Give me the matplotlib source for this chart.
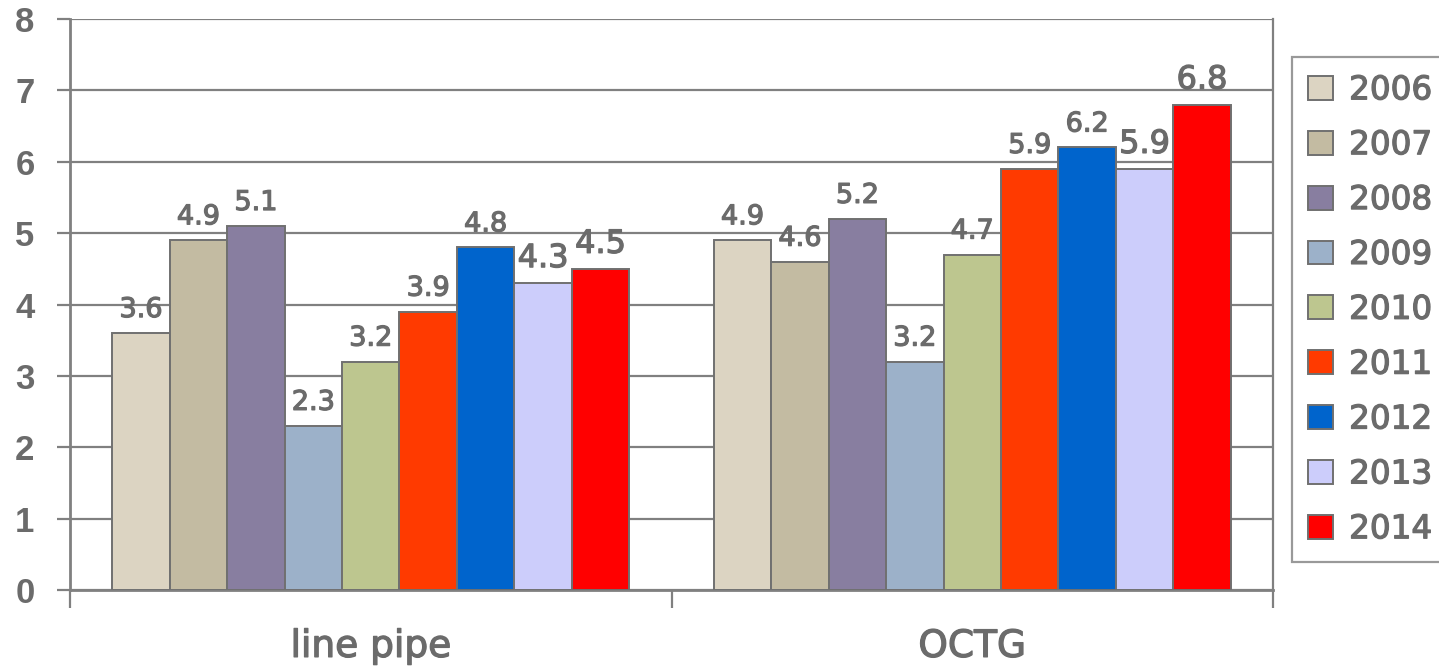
import numpy as np
import matplotlib.pyplot as plt
import matplotlib.patheffects as pe
from matplotlib.ticker import FixedLocator

GREY = "#6b6b6b"
LINE = "#808080"
THICK = [pe.withStroke(linewidth=0.9, foreground=GREY)]

categories = ["line pipe", "OCTG"]
years = ["2006", "2007", "2008", "2009", "2010", "2011", "2012", "2013", "2014"]
colors = ["#dcd4c2", "#c3bba2", "#887ea0", "#9cb1c9", "#bdc68f",
          "#ff3a00", "#0064cc", "#cccdfb", "#ff0000"]
line_pipe = [3.6, 4.9, 5.1, 2.3, 3.2, 3.9, 4.8, 4.3, 4.5]
octg = [4.9, 4.6, 5.2, 3.2, 4.7, 5.9, 6.2, 5.9, 6.8]
# the last two years get a larger label
big_label = ["2013", "2014"]
yticks = [0, 1, 2, 3, 4, 5, 6, 7, 8]

fig = plt.figure(figsize=(14.39, 6.69), dpi=100)
ax = fig.add_axes([70 / 1439, 79 / 669, (1273 - 70) / 1439, (590 - 19) / 669])

x = np.arange(len(categories))
w = 0.0955
for i, yr in enumerate(years):
    vals = [line_pipe[i], octg[i]]
    pos = x + (i - 4) * w
    ax.bar(pos, vals, width=w, color=colors[i], edgecolor="#707070",
           linewidth=1.4, label=yr, zorder=3)
    size = 23 if yr in big_label else 19.5
    for px, v in zip(pos, vals):
        ax.annotate(f"{v:.1f}", (px, v), xytext=(0, 11.5), textcoords="offset points",
                    ha="center", va="baseline", fontsize=size, color=GREY,
                    family="DejaVu Sans", path_effects=THICK, zorder=4)

ax.set_xlim(-0.5, 1.5)
ax.set_ylim(0, 8)
ax.grid(axis="y", color=LINE, linewidth=1.6, zorder=0)

for s in ["top", "right"]:
    ax.spines[s].set_visible(False)
for s in ["left", "bottom"]:
    ax.spines[s].set_color(LINE)
    ax.spines[s].set_linewidth(2)
# right border of the plot area
ax.plot([1.5, 1.5], [0, 8], color=LINE, lw=1.6, clip_on=False, zorder=2)

ax.tick_params(axis="y", direction="out", length=9.5, width=1.6, color=LINE,
               pad=16, labelsize=25, labelcolor=GREY)
ax.set_yticks(yticks)
ax.set_yticklabels([str(v) for v in yticks])
for t in ax.get_yticklabels():
    t.set_fontfamily("Liberation Sans")
    t.set_fontweight("bold")

ax.xaxis.set_minor_locator(FixedLocator([-0.5, 0.5, 1.5]))
ax.tick_params(axis="x", which="major", length=0, pad=28)
ax.tick_params(axis="x", which="minor", direction="out", length=13, width=1.6, color=LINE)
ax.set_xticks(x)
ax.set_xticklabels(categories, family="DejaVu Sans", fontsize=27, color=GREY)
for t in ax.get_xticklabels():
    t.set_path_effects(THICK)

leg = fig.legend(loc="upper left", bbox_to_anchor=(1292 / 1439, 1 - 57 / 669),
                 prop={"family": "DejaVu Sans", "size": 23.5},
                 labelcolor=GREY, frameon=True, fancybox=False,
                 handlelength=0.75, handleheight=0.75, handletextpad=0.5,
                 labelspacing=0.67, borderpad=0.5, borderaxespad=0)
leg.get_frame().set_edgecolor(LINE)
leg.get_frame().set_linewidth(1.6)
for t in leg.get_texts():
    t.set_path_effects(THICK)

fig.savefig("out.png", dpi=100)
